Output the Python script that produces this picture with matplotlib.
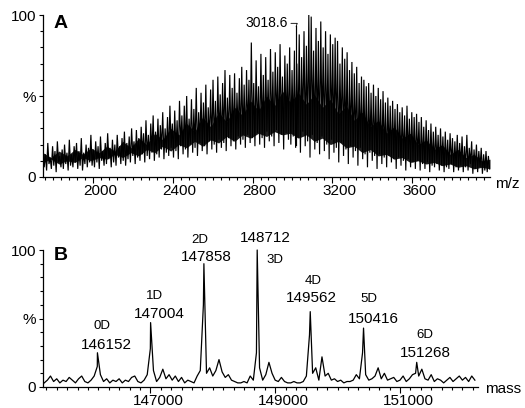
import numpy as np
import matplotlib
matplotlib.use("Agg")
import matplotlib.pyplot as plt
from matplotlib.ticker import MultipleLocator, FixedLocator, FixedFormatter
import matplotlib.transforms as mtransforms

plt.rcParams['font.family'] = ['Liberation Sans', 'DejaVu Sans']

# ---- Panel A: raw ESI spectrum, one crest/valley pair every 12 m/z ----
mz_start, mz_step = 1750, 12
crest_pct = [
    18, 14, 21, 12, 19, 16, 22, 13, 17, 20, 15, 23, 14, 19, 21, 16, 24, 15, 20, 18, 26,
    17, 22, 19, 25, 16, 21, 27, 18, 23, 20, 26, 19, 24, 28, 21, 25, 30,
    22, 29, 24, 31, 27, 35, 26, 33, 38, 28, 36, 32, 40, 30, 37, 44, 33,
    41, 35, 47, 38, 44, 50, 36, 48, 42, 55, 40, 52, 46, 57, 43, 54, 60,
    47, 62, 51, 58, 66, 49, 63, 55, 64, 52, 61, 68, 57, 66, 60, 83, 58,
    72, 56, 76, 63, 74, 60, 79, 65, 77, 68, 82, 62, 75, 70, 80, 66, 78,
    70, 88, 74, 90, 81, 100, 99, 78, 92, 84, 96, 80, 90, 76, 88, 82, 86,
    84, 70, 80, 73, 77, 66, 71, 64, 68, 58, 62, 60, 56, 58, 52, 57, 50,
    55, 48, 53, 46, 49, 44, 47, 42, 45, 40, 43, 38, 44, 36, 40, 37, 39,
    34, 37, 31, 35, 29, 33, 28, 31, 26, 30, 25, 28, 23, 27, 24, 22, 26,
    21, 25, 19, 26, 18, 22, 17, 20, 16, 18, 14, 16, 13,
]
valley_pct = [
    6, 4, 8, 5, 7, 3, 9, 6, 5, 8, 4, 7, 6, 9, 5, 7, 4, 8, 6, 9, 7,
    6, 9, 5, 10, 7, 8, 11, 6, 9, 7, 12, 8, 10, 7, 11, 9, 13,
    8, 12, 10, 14, 9, 13, 11, 15, 10, 14, 12, 17, 11, 15, 13, 18, 12,
    16, 11, 19, 14, 17, 12, 20, 15, 18, 13, 21, 16, 19, 14, 22, 17, 20,
    15, 23, 18, 21, 16, 24, 19, 22, 17, 25, 20, 23, 18, 26, 21, 24, 19,
    27, 20, 24, 18, 28, 22, 25, 19, 29, 21, 26, 17, 27, 23, 20, 25, 18,
    24, 15, 28, 19, 22, 12, 26, 17, 21, 14, 25, 16, 20, 11, 23, 15, 18,
    9, 21, 13, 17, 8, 19, 12, 16, 7, 18, 11, 14, 6, 15, 10, 13, 5,
    14, 8, 12, 6, 13, 9, 11, 5, 12, 7, 10, 4, 11, 6, 9, 5, 10,
    4, 8, 5, 9, 3, 7, 6, 8, 4, 7, 3, 6, 5, 8, 3, 6, 4,
    7, 3, 6, 4, 8, 2, 5, 3, 6, 2, 4, 3, 5,
]
# unresolved background under the charge-state series, every 40 m/z
core_start, core_step = 1750, 40
core_lo = [9, 11, 8, 10, 9, 12, 10, 12, 11, 14, 12, 15, 13, 17, 15, 19, 16, 20, 18,
           22, 19, 23, 21, 25, 22, 26, 24, 27, 25, 28, 26, 27, 24, 26, 22, 24, 20, 22,
           18, 19, 15, 17, 13, 14, 11, 12, 9, 10, 8, 9, 7, 8, 6, 7, 5, 6, 5]
core_hi = [15, 12, 16, 13, 17, 14, 18, 15, 19, 16, 22, 18, 24, 20, 27, 23, 30, 26, 33,
           28, 37, 31, 40, 34, 43, 38, 47, 41, 50, 44, 53, 46, 52, 45, 51, 43, 48, 39,
           44, 35, 40, 31, 35, 27, 31, 24, 27, 20, 23, 17, 20, 14, 17, 12, 14, 10, 11]
apex_mz = 3018.6
apex_pct = 93
apex_foot_pct = 20

# ---- Panel B: deconvoluted mass spectrum ----
mass_start, mass_step = 145300, 50
baseline_pct = [
    3, 5, 8, 4, 6, 3, 5, 4, 7, 5,
    3, 6, 8, 4, 3, 5, 8, 15, 9, 4,
    6, 3, 5, 4, 6, 3, 5, 4, 7, 8,
    4, 3, 5, 9, 28, 12, 4, 7, 13, 6,
    9, 5, 8, 4, 7, 3, 5, 4, 3, 8,
    12, 60, 10, 14, 8, 12, 20, 11, 7, 9,
    5, 4, 3, 3, 4, 3, 8, 5, 25, 14,
    5, 9, 18, 10, 5, 4, 7, 4, 3, 3,
    4, 3, 3, 4, 8, 38, 10, 14, 5, 22,
    8, 10, 5, 6, 4, 5, 3, 4, 4, 5,
    9, 6, 25, 9, 5, 6, 8, 14, 6, 10,
    5, 6, 7, 4, 5, 8, 4, 6, 9, 10,
    8, 13, 6, 5, 9, 4, 6, 5, 3, 5,
    7, 4, 6, 8, 5, 7, 4, 8, 5,
]
drug_load = ['0D', '1D', '2D', '3D', '4D', '5D', '6D']
peak_mass = [146152, 147004, 147858, 148712, 149562, 150416, 151268]
peak_pct = [25, 47, 90, 100, 55, 43, 18]
mass_ticks = [147000, 149000, 151000]

assert len(crest_pct) == len(valley_pct)
assert len(core_lo) == len(core_hi)

W, H, DPI = 525, 408, 100
fig = plt.figure(figsize=(W / DPI, H / DPI), dpi=DPI)


def px_box(left, top, right, bottom):
    return [left / W, 1 - bottom / H, (right - left) / W, (bottom - top) / H]


def style_axes(ax):
    for s in ('top', 'right'):
        ax.spines[s].set_visible(False)
    for s in ('left', 'bottom'):
        ax.spines[s].set_linewidth(0.9)
    ax.set_ylim(0, 100)
    ax.yaxis.set_major_locator(FixedLocator([0, 50, 100]))
    ax.yaxis.set_major_formatter(FixedFormatter(['0', '%', '100']))
    ax.yaxis.set_minor_locator(MultipleLocator(10))
    ax.tick_params(axis='both', which='both', direction='out', width=0.8,
                   labelsize=11, colors='black')
    ax.tick_params(axis='y', which='major', length=3, pad=2)
    ax.tick_params(axis='y', which='minor', length=2.5)
    ax.tick_params(axis='x', which='major', length=4, pad=1)
    ax.tick_params(axis='x', which='minor', length=2.5)


def shift_xlabels(ax, dx_px):
    off = mtransforms.ScaledTranslation(dx_px / DPI, 0, fig.dpi_scale_trans)
    for lab in ax.get_xticklabels():
        lab.set_transform(lab.get_transform() + off)


# ---------------- Panel A ----------------
axA = fig.add_axes(px_box(43, 15, 490, 177))
style_axes(axA)
core_mz = core_start + core_step * np.arange(len(core_lo))
axA.fill_between(core_mz, core_lo, core_hi, color='#1e1e1e', lw=0)
mz = mz_start + mz_step * np.arange(len(crest_pct))
xs = np.empty(2 * len(mz))
ys = np.empty(2 * len(mz))
xs[0::2] = mz
xs[1::2] = mz + mz_step / 2
ys[0::2] = crest_pct
ys[1::2] = valley_pct
axA.plot(xs, ys, color='black', lw=0.85, solid_joinstyle='miter')
axA.plot([apex_mz, apex_mz], [apex_foot_pct, apex_pct], color='black', lw=0.85)
axA.set_xlim(1750, 3990)
axA.xaxis.set_major_locator(MultipleLocator(400))
axA.xaxis.set_minor_locator(MultipleLocator(40))
axA.annotate(f'{apex_mz:.1f}', xy=(apex_mz, apex_pct), xycoords='data',
             xytext=(-8, 3), textcoords='offset pixels', ha='right', va='center',
             fontsize=10,
             arrowprops=dict(arrowstyle='-', lw=0.6, color='black',
                             shrinkA=0, shrinkB=0,
                             connectionstyle='angle,angleA=0,angleB=70,rad=0'))
fig.text(507 / W, 1 - 184 / H, 'm/z', fontsize=11, ha='center', va='center')
fig.text(61 / W, 1 - 23 / H, 'A', fontsize=14, fontweight='bold',
         ha='center', va='center')

# ---------------- Panel B ----------------
axB = fig.add_axes(px_box(43, 250, 478, 387))
style_axes(axB)
grid_mass = mass_start + mass_step * np.arange(len(baseline_pct))
bx = np.concatenate([grid_mass, peak_mass])
by = np.concatenate([baseline_pct, peak_pct])
order = np.argsort(bx, kind='stable')
axB.plot(bx[order], by[order], color='black', lw=0.9, clip_on=False)
axB.set_xlim(145280, 152250)
axB.xaxis.set_major_locator(FixedLocator(mass_ticks))
axB.xaxis.set_minor_locator(MultipleLocator(2000 / 12))

# label placement (pixel offsets from each peak apex): mass line, load line
label_offsets = {
    '0D': ((9, 8), (5, 27)),
    '1D': ((9, 9), (4, 27)),
    '2D': ((2, 7), (-4, 24)),
    '3D': ((8, 12), (18, -10)),
    '4D': ((1, 14), (3, 31)),
    '5D': ((10, 9), (5, 29)),
    '6D': ((9, 9), (8, 27)),
}
for load, m, p in zip(drug_load, peak_mass, peak_pct):
    (mdx, mdy), (ldx, ldy) = label_offsets[load]
    axB.annotate(str(m), xy=(m, p), xytext=(mdx, mdy), textcoords='offset pixels',
                 ha='center', va='center', fontsize=11, annotation_clip=False)
    axB.annotate(load, xy=(m, p), xytext=(ldx, ldy), textcoords='offset pixels',
                 ha='center', va='center', fontsize=9.5, annotation_clip=False)
fig.text(503 / W, 1 - 389 / H, 'mass', fontsize=11, ha='center', va='center')
fig.text(61 / W, 1 - 256 / H, 'B', fontsize=14, fontweight='bold',
         ha='center', va='center')

fig.canvas.draw()
shift_xlabels(axA, 7)
shift_xlabels(axB, 8)

fig.savefig('out.png', dpi=DPI)
